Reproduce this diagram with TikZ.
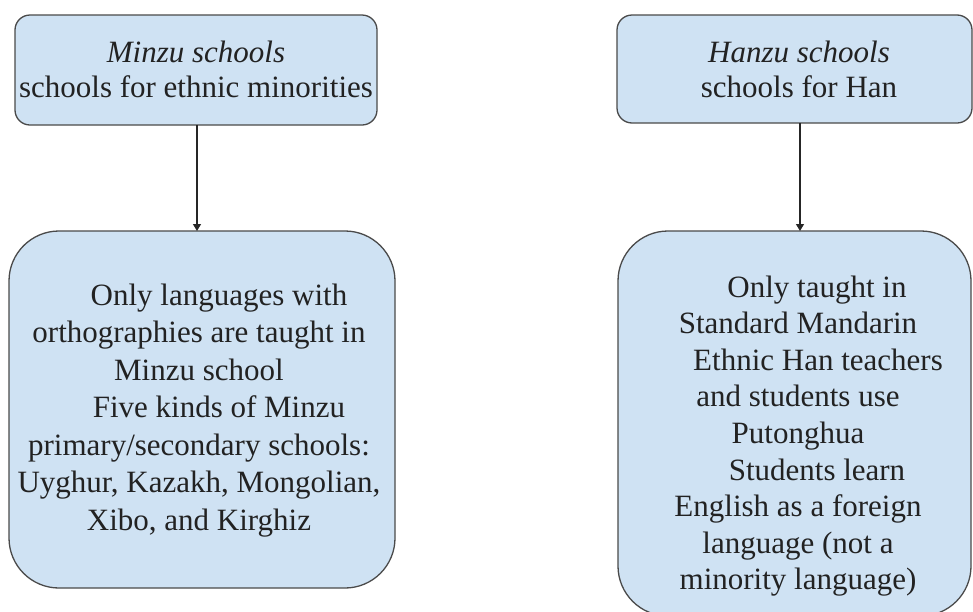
\documentclass[tikz,border=0pt]{standalone}
\usepackage{fontspec}
\setmainfont{Liberation Serif}
\usetikzlibrary{arrows.meta}
\definecolor{boxfill}{HTML}{CFE2F3}
\definecolor{boxline}{HTML}{4A4A4A}
\definecolor{inktext}{HTML}{222222}
\begin{document}
\begin{tikzpicture}[x=1pt,y=-1pt,
  panel/.style={draw=boxline, line width=1.3pt, fill=boxfill, inner sep=0pt, outer sep=0pt},
  smallpanel/.style={panel, rounded corners=15pt},
  bigpanel/.style={panel, rounded corners=50pt},
  caption/.style={align=center, inner sep=0pt, text=inktext, font=\fontsize{31}{35}\selectfont},
  body/.style={align=center, inner sep=0pt, text=inktext, font=\fontsize{31}{37.5}\selectfont},
  bodyr/.style={align=center, inner sep=0pt, text=inktext, font=\fontsize{31}{36.6}\selectfont},
  link/.style={draw=black!85, line width=1.2pt, -{Triangle[length=7pt,width=8pt]}}]
\useasboundingbox (0,0) rectangle (973,611);

% the four panels
\node[smallpanel, minimum width=362pt, minimum height=110pt] (minzu) at (196,70) {};
\node[smallpanel, minimum width=355pt, minimum height=108pt] (hanzu) at (794.5,69) {};
\node[bigpanel, minimum width=386pt, minimum height=357pt] (minzudetail) at (202,409.5) {};
\node[bigpanel, minimum width=353pt, minimum height=385pt] (hanzudetail) at (794.5,423.5) {};

% panel texts
\node[caption] (minzutext) at (196,73)
  {\strut\emph{Minzu schools}\\\strut schools for ethnic minorities};
\node[caption] (hanzutext) at (799,72.5)
  {\strut\emph{Hanzu schools}\\\strut schools for Han};
\node[body] (minzubody) at (199,410)
  {\strut\hspace*{40pt}Only languages with\\
   \strut orthographies are taught in\\
   \strut Minzu school\\
   \strut\hspace*{40pt}Five kinds of Minzu\\
   \strut primary/secondary schools:\\
   \strut Uyghur, Kazakh, Mongolian,\\
   \strut Xibo, and Kirghiz};
\node[bodyr] (hanzubody) at (798,436.2)
  {\strut\hspace*{38pt}Only taught in\\
   \strut Standard Mandarin\\
   \strut\hspace*{40pt}Ethnic Han teachers\\
   \strut and students use\\
   \strut Putonghua\\
   \strut\hspace*{38pt}Students learn\\
   \strut English as a foreign\\
   \strut language (not a\\
   \strut minority language)};

% connectors
\draw[link] ([xshift=1pt]minzu.south) -- ([xshift=1pt]minzu.south |- minzudetail.north);
\draw[link] ([xshift=5.5pt]hanzu.south) -- ([xshift=5.5pt]hanzu.south |- hanzudetail.north);
\end{tikzpicture}
\end{document}
